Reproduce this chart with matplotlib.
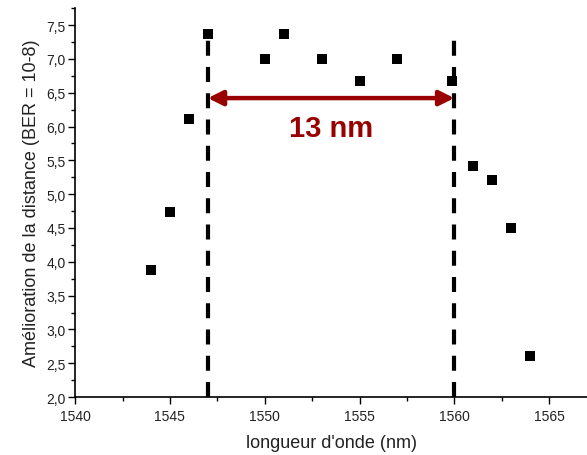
import matplotlib
matplotlib.use("Agg")
import matplotlib.pyplot as plt
from matplotlib.ticker import MultipleLocator, FuncFormatter

plt.rcParams['font.family'] = ['Liberation Sans', 'DejaVu Sans']

wavelength = [1544, 1545, 1546, 1547, 1550, 1551, 1553, 1555, 1557, 1559.9, 1561, 1562, 1563, 1564]
improvement = [3.88, 4.74, 6.11, 7.37, 7.0, 7.37, 7.0, 6.67, 7.0, 6.67, 5.42, 5.21, 4.5, 2.61]
band_edges = [1547, 1560]
band_label = "13 nm"
arrow_y = 6.42

fig = plt.figure(figsize=(5.87, 4.56), dpi=100)
ax = fig.add_axes([0.128, 0.127, 0.872, 0.853])

ax.scatter(wavelength, improvement, marker='s', s=42, color='black', zorder=3, linewidths=0)

for xe in band_edges:
    ax.plot([xe, xe], [2.0, 7.4], color='black', lw=3.0, linestyle=(0, (3.6, 2.7)), zorder=2)

ax.annotate('', xy=(band_edges[0], arrow_y), xytext=(band_edges[1], arrow_y),
            arrowprops=dict(arrowstyle='<|-|>', color='#990000', lw=3.2,
                            mutation_scale=22, shrinkA=0, shrinkB=0))
ax.text(sum(band_edges) / 2, 5.98, band_label, color='#990000', fontsize=21,
        fontweight='bold', ha='center', va='center')

ax.set_xlim(1540, 1567)
ax.set_ylim(2.0, 7.75)
ax.xaxis.set_major_locator(MultipleLocator(5))
ax.xaxis.set_minor_locator(MultipleLocator(2.5))
ax.yaxis.set_major_locator(MultipleLocator(0.5))
ax.yaxis.set_minor_locator(MultipleLocator(0.25))
ax.yaxis.set_major_formatter(FuncFormatter(lambda v, p: f"{v:.1f}".replace('.', ',')))
ax.tick_params(which='both', direction='out', labelsize=10, color='black', width=1,
               labelcolor='#222222')
ax.tick_params(which='major', length=5)
ax.tick_params(which='minor', length=3)
ax.tick_params(axis='y', which='both', pad=2)

for s in ['top', 'right']:
    ax.spines[s].set_visible(False)
for s in ['left', 'bottom']:
    ax.spines[s].set_linewidth(1.2)

ax.set_xlabel("longueur d'onde (nm)", fontsize=13, labelpad=8, color='#222222')
ax.set_ylabel("Amélioration de la distance (BER = 10-8)", fontsize=13, labelpad=4, color='#222222')

fig.savefig('out.png', dpi=100)
